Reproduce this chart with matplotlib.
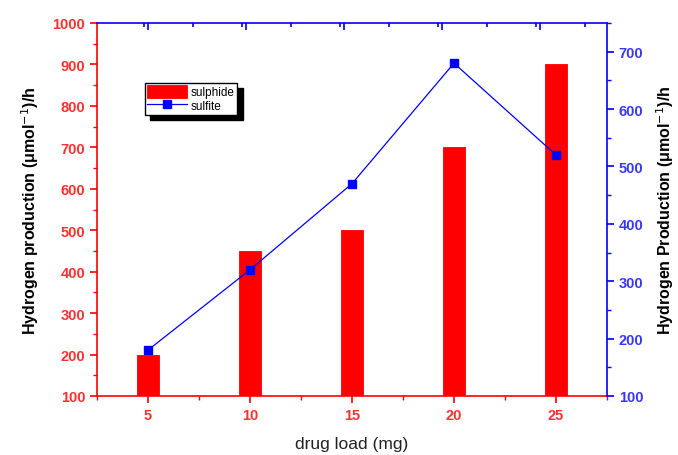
import numpy as np
import matplotlib
matplotlib.use("Agg")
import matplotlib.pyplot as plt
from matplotlib.ticker import MultipleLocator

plt.rcParams['font.family'] = ['Liberation Sans', 'DejaVu Sans']

# data
drug_load = [5, 10, 15, 20, 25]
sulphide = [200, 450, 500, 700, 900]
sulfite = [180, 320, 470, 680, 520]

red = '#ff0000'
blue = '#0000ff'

fig = plt.figure(figsize=(6.78, 4.56), dpi=100)
ax = fig.add_axes([97 / 678, 1 - 397 / 456, 510 / 678, 373 / 456])

bars = ax.bar(drug_load, [v - 100 for v in sulphide], bottom=100, width=1.1,
              color=red, edgecolor=red, linewidth=0.6, label='sulphide', zorder=2)
ax.set_xlim(2.5, 27.5)
ax.set_ylim(100, 1000)
ax.set_xticks(drug_load)
ax.xaxis.set_minor_locator(MultipleLocator(2.5))
ax.yaxis.set_major_locator(MultipleLocator(100))
ax.yaxis.set_minor_locator(MultipleLocator(50))
ax.tick_params(axis='both', which='major', direction='out', length=5, width=1.2,
               color=red, labelcolor='#ff3030', labelsize=10.5)
ax.tick_params(axis='both', which='minor', direction='out', length=3, width=1,
               color=red)
for lbl in ax.get_xticklabels() + ax.get_yticklabels():
    lbl.set_fontweight('bold')
ax.spines['left'].set_color(red)
ax.spines['bottom'].set_color(red)
ax.spines['left'].set_linewidth(1.2)
ax.spines['bottom'].set_linewidth(1.2)
ax.spines['top'].set_visible(False)
ax.spines['right'].set_visible(False)
ax.set_xlabel('drug load (mg)', fontsize=12.5, color='#222222', labelpad=10)
ax.set_ylabel('Hydrogen production (μmol$^{-1}$)/h', fontsize=11.5,
              fontweight='bold', labelpad=8)

ax2 = ax.twinx()
line, = ax2.plot(drug_load, sulfite, color=blue, linewidth=0.9, marker='s',
                 markersize=6, markerfacecolor=blue, markeredgecolor=blue,
                 label='sulfite', zorder=3)
ax2.set_ylim(100, 750)
ax2.yaxis.set_major_locator(MultipleLocator(100))
ax2.yaxis.set_minor_locator(MultipleLocator(50))
ax2.tick_params(axis='y', which='major', direction='out', length=5, width=1.2,
                color=blue, labelcolor='#3838ff', labelsize=10.5)
ax2.tick_params(axis='y', which='minor', direction='out', length=3, width=1,
                color=blue)
for lbl in ax2.get_yticklabels():
    lbl.set_fontweight('bold')
for s in ['left', 'bottom']:
    ax2.spines[s].set_visible(False)
ax2.spines['right'].set_color(blue)
ax2.spines['top'].set_color(blue)
ax2.spines['right'].set_linewidth(1.2)
ax2.spines['top'].set_linewidth(1.2)
ax2.set_ylabel('Hydrogen Production (μmol$^{-1}$)/h', fontsize=11.5,
               fontweight='bold', labelpad=8)

# inward ticks on the top spine
ax3 = ax.twiny()
ax3.set_xlim(ax.get_xlim())
ax3.set_xticks(np.arange(5, 27.5, 4.8))
ax3.xaxis.set_minor_locator(MultipleLocator(2.4))
ax3.tick_params(axis='x', which='both', direction='in', colors=blue,
                labeltop=False, width=1.2)
ax3.tick_params(axis='x', which='major', length=5)
ax3.tick_params(axis='x', which='minor', length=3)
for s in ['left', 'bottom', 'right', 'top']:
    ax3.spines[s].set_visible(False)

leg = ax.legend([bars, line], ['sulphide', 'sulfite'], loc='upper left',
                bbox_to_anchor=(0.094, 0.84), fontsize=8.5, frameon=True,
                fancybox=False, shadow={'color': 'black', 'alpha': 1, 'ox': 4, 'oy': -4},
                edgecolor='black', framealpha=1,
                handlelength=3.4, handleheight=1.3, borderpad=0.2,
                labelspacing=0.05, handletextpad=0.3, borderaxespad=0)
leg.get_frame().set_linewidth(1)
leg.set_zorder(10)

fig.savefig('out.png', dpi=100)
